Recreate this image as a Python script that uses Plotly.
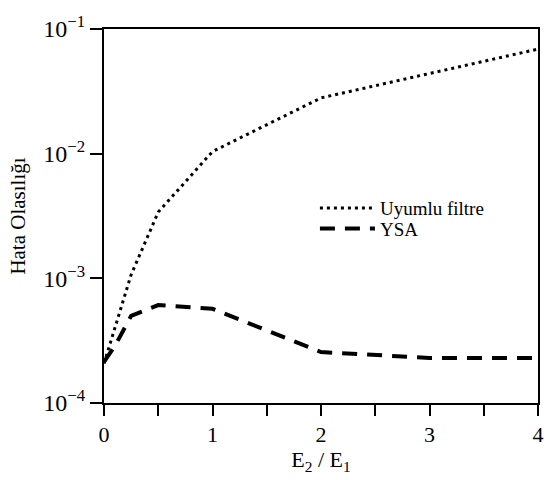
import plotly.graph_objects as go

# ---- data ----
x_filter = [0, 0.25, 0.5, 1, 2, 3, 4]
p_filter = [2.07e-4, 1.07e-3, 3.4e-3, 1.04e-2, 2.8e-2, 4.4e-2, 6.9e-2]

x_ysa = [0, 0.1, 0.25, 0.5, 1, 2, 3, 4]
p_ysa = [2.14e-4, 2.86e-4, 5.0e-4, 6.1e-4, 5.7e-4, 2.56e-4, 2.3e-4, 2.3e-4]

names = ["Uyumlu filtre", "YSA"]

x_tickvals = [0, 1, 2, 3, 4]
x_ticktext = ["0", "1", "2", "3", "4"]
x_minor_tickvals = [0.5, 1.5, 2.5, 3.5]
y_tickvals = [1e-4, 1e-3, 1e-2, 1e-1]
y_ticktext = ["10<sup>\u22124</sup>", "10<sup>\u22123</sup>", "10<sup>\u22122</sup>", "10<sup>\u22121</sup>"]

FONT = "Liberation Serif"
TICKC = "black"

fig = go.Figure()
fig.add_trace(go.Scatter(x=x_filter, y=p_filter, mode="lines", name=names[0],
                         legend="legend",
                         line=dict(color="black", width=3, dash="3px,4px")))
fig.add_trace(go.Scatter(x=x_ysa, y=p_ysa, mode="lines", name=names[1],
                         legend="legend2",
                         line=dict(color="black", width=4, dash="15px,10px")))

leg_common = dict(xanchor="left", yanchor="top", bgcolor="rgba(0,0,0,0)",
                  borderwidth=0, font=dict(family=FONT, size=19), itemwidth=55)

fig.update_layout(
    width=560, height=480,
    margin=dict(l=104, r=22, t=21, b=77),
    paper_bgcolor="white", plot_bgcolor="white",
    font=dict(family=FONT, color="black", size=20),
    showlegend=True,
    legend=dict(x=0.486, y=0.572, **leg_common),
    legend2=dict(x=0.486, y=0.517, **leg_common),
    xaxis=dict(range=[0, 4], tickmode="array", tickvals=x_tickvals, ticktext=x_ticktext,
               ticks="outside", ticklen=11, tickwidth=2, tickcolor=TICKC,
               minor=dict(tickmode="array", tickvals=x_minor_tickvals,
                          ticks="outside", ticklen=11,
                          tickwidth=2, tickcolor=TICKC, showgrid=False),
               showline=True, linewidth=2, linecolor="black", mirror=True,
               showgrid=False, zeroline=False,
               tickfont=dict(family=FONT, size=22),
               title=dict(text="E<sub>2</sub> / E<sub>1</sub>", standoff=4,
                          font=dict(family=FONT, size=22))),
    yaxis=dict(type="log", range=[-4, -1], tickvals=y_tickvals, ticktext=y_ticktext,
               ticks="outside", ticklen=12, tickwidth=2, tickcolor=TICKC,
               showline=True, linewidth=2, linecolor="black", mirror=True,
               showgrid=False, zeroline=False,
               tickfont=dict(family=FONT, size=24),
               title=dict(text="Hata Olasılığı", standoff=12,
                          font=dict(family=FONT, size=21))),
)

fig.write_html("out.html", config={"displayModeBar": False})
